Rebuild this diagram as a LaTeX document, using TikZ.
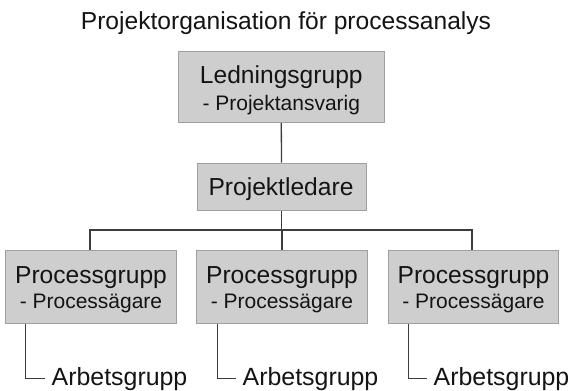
\documentclass[tikz,border=0pt]{standalone}
\usepackage{fontspec}
\setmainfont{Liberation Sans}
\definecolor{boxfill}{RGB}{206,206,206}
\definecolor{boxline}{RGB}{160,160,160}
\definecolor{linkcol}{RGB}{60,60,60}
\definecolor{ink}{RGB}{20,20,20}
\newcommand{\mainsize}{\fontsize{24.6}{28}\selectfont}
\newcommand{\subsize}{\fontsize{21}{24}\selectfont}
\newcommand{\worksize}{\fontsize{24.9}{29}\selectfont}
\begin{document}
\begin{tikzpicture}[x=1pt,y=-1pt,
  orgbox/.style={rectangle, draw=boxline, fill=boxfill, line width=0.9pt, inner sep=0pt},
  link/.style={draw=linkcol, line width=1.3pt},
  lbl/.style={anchor=base, inner sep=0pt, text=ink},
  worklbl/.style={anchor=base west, inner xsep=6.5pt, inner ysep=0pt, text=ink, font=\worksize}]
\useasboundingbox (0,0) rectangle (571,391);

% heading
\node[lbl, font=\mainsize] (title) at (286,29.3) {Projektorganisation för processanalys};

% steering group
\node[orgbox, minimum width=206pt, minimum height=71.5pt] (ledning) at (281.3,86.8) {};
\node[lbl, font=\mainsize] (ledningA) at (281.3,83) {Ledningsgrupp};
\node[lbl, font=\subsize] (ledningB) at (281.3,110) {- Projektansvarig};

% project manager
\node[orgbox, minimum width=169pt, minimum height=47.7pt] (pl) at (281.5,186.9) {};
\node[lbl, font=\mainsize] (plA) at (281,195) {Projektledare};

% process groups
\foreach \i/\cx in {1/91, 2/282, 3/473.5}{
  \node[orgbox, minimum width=170.5pt, minimum height=73.3pt] (pg\i) at (\cx,286.7) {};
  \node[lbl, font=\mainsize] (pg\i A) at (\cx,283) {Processgrupp};
  \node[lbl, font=\subsize] (pg\i B) at (\cx,308) {- Processägare};
}

% working groups
\node[worklbl] (ag1) at (45,385) {Arbetsgrupp};
\node[worklbl] (ag2) at (236,385) {Arbetsgrupp};
\node[worklbl] (ag3) at (427,385) {Arbetsgrupp};

% branch point below the project manager
\coordinate (bar) at (281.5,230);

% connectors
\draw[link] (ledning.south) -- (pl.north);
\draw[link] (pl.south) -- (bar);
\draw[link] ([xshift=-1pt]pg1.north) |- (bar) -| ([xshift=-1.5pt]pg3.north);
\draw[link] (pg2.north |- bar) -- (pg2.north);
\draw[link] ([xshift=20.5pt]pg1.south west) |- (ag1.west);
\draw[link] ([xshift=21pt]pg2.south west) |- (ag2.west);
\draw[link] ([xshift=20.5pt]pg3.south west) |- (ag3.west);
\end{tikzpicture}
\end{document}
